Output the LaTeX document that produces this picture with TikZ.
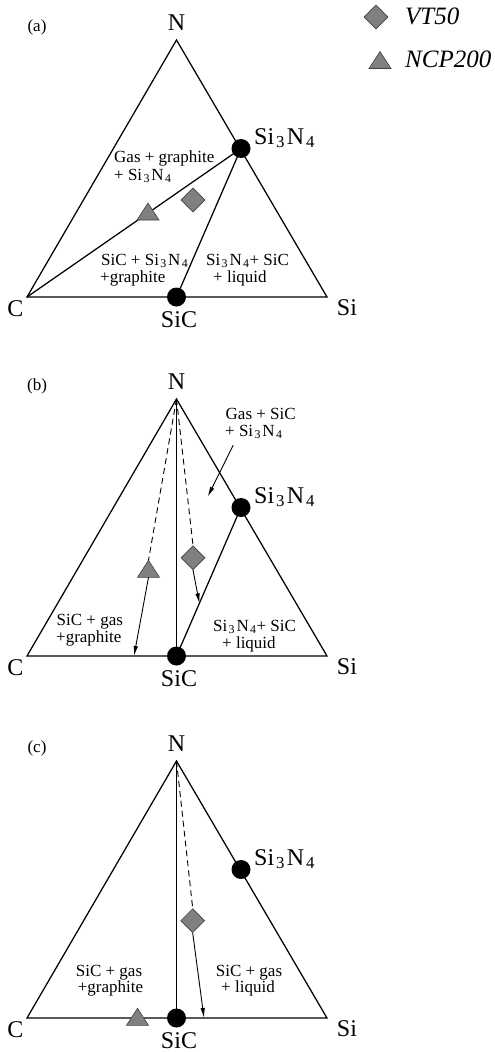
\documentclass[tikz,border=0pt]{standalone}
\usepackage{fontspec}
\setmainfont{Liberation Serif}
\usetikzlibrary{arrows.meta,shapes.geometric}
\newcommand{\snf}{Si\kern0.08em\textsubscript{3}\kern0.08em N\kern0.08em\textsubscript{4}}
\begin{document}
\begin{tikzpicture}[x=1pt,y=-1pt,
  tedge/.style={line width=1.25pt, line join=miter},
  dot/.style={circle, fill=black, minimum size=19pt, inner sep=0pt},
  big/.style={font=\fontsize{24}{26}\selectfont, inner sep=0pt},
  region/.style={font=\fontsize{17}{18}\selectfont, inner sep=0pt},
  plabel/.style={font=\fontsize{17}{18}\selectfont, inner sep=0pt},
  legend/.style={font=\fontsize{25}{27}\selectfont\itshape, inner sep=0pt, anchor=west},
  mkstyle/.style={fill=gray, draw=black!75, line width=0.6pt, line join=miter},
  dmark/.style={diamond, mkstyle, minimum width=24pt, minimum height=24pt, inner sep=0pt},
  arr/.style={line width=0.9pt, -{Latex[length=10pt,width=4.5pt]}},
  dsh/.style={line width=0.9pt, dash pattern=on 6pt off 4pt},
  trimark/.pic={\draw[mkstyle] (0,-9) -- (11,8) -- (-11,8) -- cycle;
    \coordinate (-top) at (0,-9); \coordinate (-bot) at (0,8);}
]
\useasboundingbox (0,0) rectangle (495,1052);

% legend
\node[dmark] (lgD) at (376,17) {};
\node[legend] (lgDt) at (405,16) {VT50};
\pic (lgT) at (380,60.5) {trimark};
\node[legend] (lgTt) at (405,59) {NCP200};

% ---------------- panel (a)
\begin{scope}
\coordinate (Na) at (176.5,40);
\coordinate (Ca) at (27,297);
\coordinate (Sia) at (327,297);
\draw[tedge] (Na) -- (Sia) -- (Ca) -- cycle;
\node[dot] (SiCa) at (176.5,297) {};
\node[dot] (SNa) at (241,148.5) {};
\draw[tedge] (SNa.center) -- (Ca);
\draw[tedge] (SNa.center) -- (SiCa.center);
\pic (Ta) at (148,212) {trimark};
\node[dmark] (Da) at (193,200) {};
\node[plabel] (la) at (37,27) {(a)};
\node[big] (lNa) at (176.5,23) {N};
\node[big, anchor=base west] (lSNa) at (254,144) {\snf};
\node[big] (lCa) at (15.5,309) {C};
\node[big] (lSia) at (347,308) {Si};
\node[big] (lSiCa) at (179,320) {SiC};
\node[region, anchor=base west] (ra1) at (114,162) {Gas + graphite};
\node[region, anchor=base west] (ra2) at (114,180) {+ \snf};
\node[region, anchor=base west] (ra3) at (101,265) {SiC + \snf};
\node[region, anchor=base west] (ra4) at (100,282) {+graphite};
\node[region, anchor=base west] (ra5) at (206,265) {\snf+ SiC};
\node[region, anchor=base west] (ra6) at (213,282) {+ liquid};
\end{scope}

% ---------------- panel (b)
\begin{scope}[shift={(0,359)}]
\coordinate (Nb) at (176.5,40);
\coordinate (Cb) at (27,297);
\coordinate (Sib) at (327,297);
\draw[tedge] (Nb) -- (Sib) -- (Cb) -- cycle;
\node[dot] (SiCb) at (176.5,297) {};
\node[dot] (SNb) at (241,148.5) {};
\draw[tedge] (Nb) -- (SiCb.center);
\draw[tedge] (SNb.center) -- (SiCb.center);
\pic (Tb) at (148.5,210.3) {trimark};
\node[dmark] (Db) at (193,198.7) {};
\coordinate (Eb1) at (134,297);
\coordinate (Eb2) at (199.4,244.3);
\coordinate (Gb1) at (233.3,86);
\coordinate (Gb2) at (207.7,137.7);
\draw[dsh] (Nb) -- (Tb-top);
\draw[dsh] (Nb) -- (Db.north);
\draw[arr] (Tb-bot) -- (Eb1);
\draw[arr] (Db.south) -- (Eb2);
\draw[arr] (Gb1) -- (Gb2);
\node[plabel] (lb) at (37,27.5) {(b)};
\node[big] (lNb) at (176.5,23) {N};
\node[big, anchor=base west] (lSNb) at (254,144) {\snf};
\node[big] (lCb) at (15.5,309) {C};
\node[big] (lSib) at (347,308) {Si};
\node[big] (lSiCb) at (179,320) {SiC};
\node[region, anchor=base west] (rb1) at (225.5,60) {Gas + SiC};
\node[region, anchor=base west] (rb2) at (225,77) {+ \snf};
\node[region, anchor=base west] (rb3) at (56.5,266) {SiC + gas};
\node[region, anchor=base west] (rb4) at (56,283) {+graphite};
\node[region, anchor=base west] (rb5) at (213,272) {\snf+ SiC};
\node[region, anchor=base west] (rb6) at (222,289) {+ liquid};
\end{scope}

% ---------------- panel (c)
\begin{scope}[shift={(0,721)}]
\coordinate (Nc) at (176.5,40);
\coordinate (Cc) at (27,297);
\coordinate (Sic) at (327,297);
\draw[tedge] (Nc) -- (Sic) -- (Cc) -- cycle;
\node[dot] (SiCc) at (176.5,297) {};
\node[dot] (SNc) at (241,148.5) {};
\draw[tedge] (Nc) -- (SiCc.center);
\pic (Tc) at (137.5,296.3) {trimark};
\node[dmark] (Dc) at (192.7,199.7) {};
\coordinate (Ec1) at (204,297);
\draw[dsh] (Nc) -- (Dc.north);
\draw[arr] (Dc.south) -- (Ec1);
\node[plabel] (lc) at (37,27.5) {(c)};
\node[big] (lNc) at (176.5,23) {N};
\node[big, anchor=base west] (lSNc) at (254,144) {\snf};
\node[big] (lCc) at (15.5,309) {C};
\node[big] (lSic) at (347,308) {Si};
\node[big] (lSiCc) at (179,320) {SiC};
\node[region, anchor=base] (rc1) at (109,255) {SiC + gas};
\node[region, anchor=base] (rc2) at (110.5,271.5) {+graphite};
\node[region, anchor=base] (rc3) at (249,255) {SiC + gas};
\node[region, anchor=base] (rc4) at (248,271.5) {+ liquid};
\end{scope}
\end{tikzpicture}
\end{document}
